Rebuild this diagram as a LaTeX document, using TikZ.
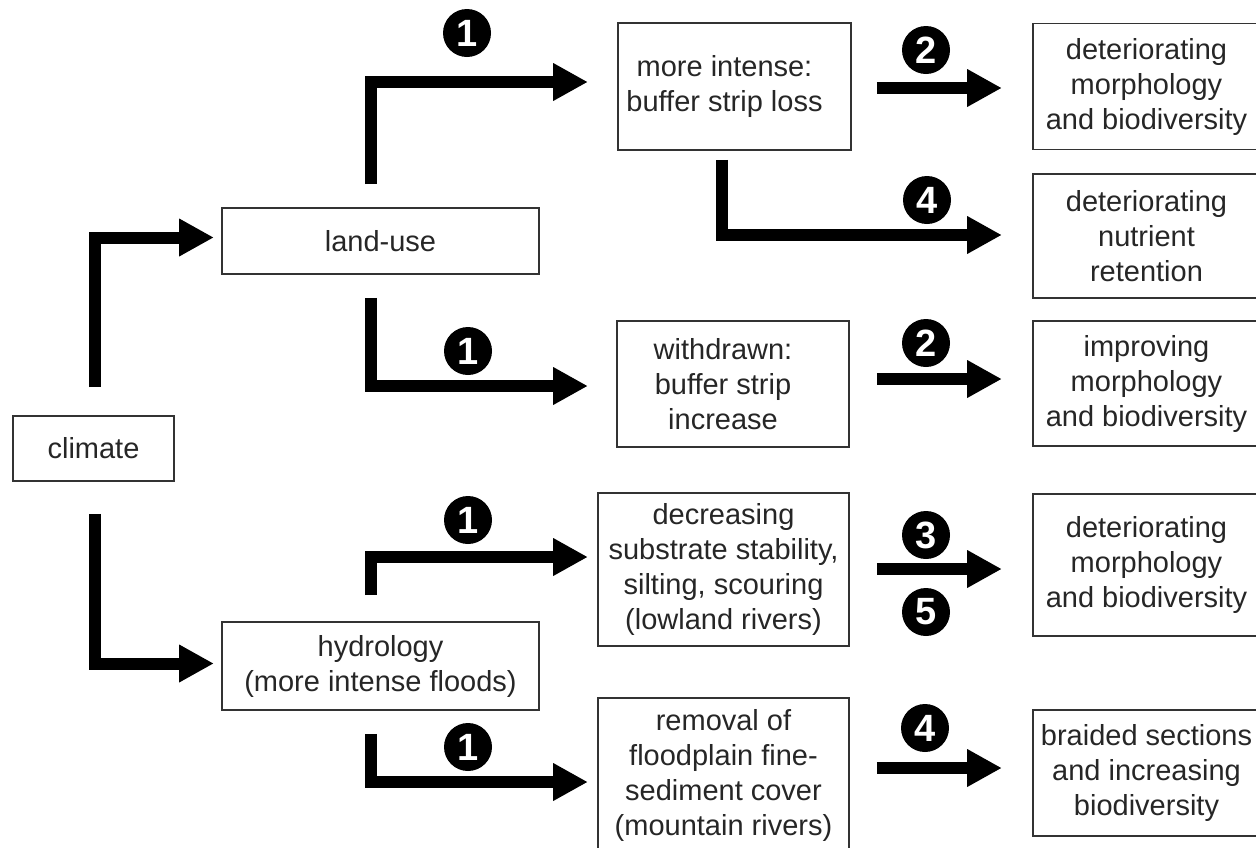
\documentclass[tikz,border=0pt]{standalone}
\usepackage{fontspec}
\setmainfont{Liberation Sans}
\usetikzlibrary{arrows.meta}
\newcommand{\textoffleft}{\kern-20pt}
\begin{document}
\begin{tikzpicture}[x=1pt,y=-1pt,
  box/.style={draw=black!80, line width=1.6pt, rectangle, inner sep=0pt,
    align=center, text=black!85, font=\fontsize{29}{35}\selectfont},
  flow/.style={line width=12pt, line join=miter, line cap=butt,
    -{Triangle[length=34pt,width=38pt,line width=0pt]}},
  num/.style={circle, fill=black, text=white, inner sep=0pt,
    minimum size=48pt, font=\fontsize{38}{38}\selectfont\bfseries}]
\useasboundingbox (0,0) rectangle (1256,847);
\clip (0,0) rectangle (1256,847);

% drivers
\node[box, minimum width=161pt, minimum height=65pt] (climate) at (93.5,448.5) {climate};
\node[box, minimum width=317pt, minimum height=66pt] (landuse) at (380.5,241) {land-use};
\node[box, minimum width=317pt, minimum height=88pt] (hydro) at (380.5,666) {hydrology\\(more intense floods)};

% direct effects
\node[box, minimum width=233pt, minimum height=127pt] (intense) at (734.5,86.5) {\textoffleft more intense:\\\textoffleft buffer strip loss};
\node[box, minimum width=232pt, minimum height=126pt] (withdrawn) at (733,384) {\textoffleft withdrawn:\\\textoffleft buffer strip\\\textoffleft increase};
\node[box, minimum width=251pt, minimum height=153pt] (substrate) at (723.5,569.5) {decreasing\\substrate stability,\\silting, scouring\\(lowland rivers)};
\node[box, minimum width=251pt, minimum height=154pt] (sediment) at (723.5,775) {removal of\\floodplain fine-\\sediment cover\\(mountain rivers)};

% outcomes
\node[box, minimum width=227pt, minimum height=126pt] (morphA) at (1146.5,86.5) {deteriorating\\morphology\\and biodiversity};
\node[box, minimum width=227pt, minimum height=124pt] (nutrient) at (1146.5,236) {deteriorating\\nutrient\\retention};
\node[box, minimum width=227pt, minimum height=125pt] (improving) at (1146.5,383.5) {improving\\morphology\\and biodiversity};
\node[box, minimum width=227pt, minimum height=142pt] (morphB) at (1146.5,565) {deteriorating\\morphology\\and biodiversity};
\node[box, minimum width=227pt, minimum height=126pt] (braided) at (1146.5,773) {braided sections\\and increasing\\biodiversity};

% climate branches
\draw[flow] ([xshift=1.5pt,yshift=28pt]climate.north) |- ([xshift=-8pt,yshift=3.5pt]landuse.west);
\draw[flow] ([xshift=1.5pt,yshift=-32pt]climate.south) |- ([xshift=-8pt,yshift=2.5pt]hydro.west);

% land-use branches
\draw[flow] ([xshift=-9.5pt,yshift=23pt]landuse.north) |- ([xshift=-30pt,yshift=4.5pt]intense.west);
\draw[flow] ([xshift=-9.5pt,yshift=-23pt]landuse.south) |- ([xshift=-29pt,yshift=-2pt]withdrawn.west);

% hydrology branches
\draw[flow] ([xshift=-9.5pt,yshift=26pt]hydro.north) |- ([xshift=-10pt,yshift=12.5pt]substrate.west);
\draw[flow] ([xshift=-9.5pt,yshift=-23pt]hydro.south) |- ([xshift=-10pt,yshift=-7pt]sediment.west);

% second-order effects
\draw[flow] ([xshift=-12.5pt,yshift=-9pt]intense.south) |- ([xshift=-31pt,yshift=1pt]nutrient.west);
\draw[flow] ([xshift=25pt,yshift=-1.5pt]intense.east) -- ([xshift=-31pt,yshift=-1.5pt]morphA.west);
\draw[flow] ([xshift=27pt,yshift=5pt]withdrawn.east) -- ([xshift=-31pt,yshift=4.5pt]improving.west);
\draw[flow] ([xshift=27pt,yshift=0.5pt]substrate.east) -- ([xshift=-31pt,yshift=-4pt]morphB.west);
\draw[flow] ([xshift=27pt,yshift=7pt]sediment.east) -- ([xshift=-31pt,yshift=5pt]braided.west);

% numbered markers
\node[num] (m1a) at (467,33) {1};
\node[num] (m1b) at (468,351) {1};
\node[num] (m1c) at (468,520) {1};
\node[num] (m1d) at (468,747) {1};
\node[num] (m2a) at (926,50) {2};
\node[num] (m4a) at (927,200) {4};
\node[num] (m2b) at (926,343) {2};
\node[num] (m3) at (926,535) {3};
\node[num] (m5) at (926,612) {5};
\node[num] (m4b) at (925,728) {4};
\end{tikzpicture}
\end{document}
